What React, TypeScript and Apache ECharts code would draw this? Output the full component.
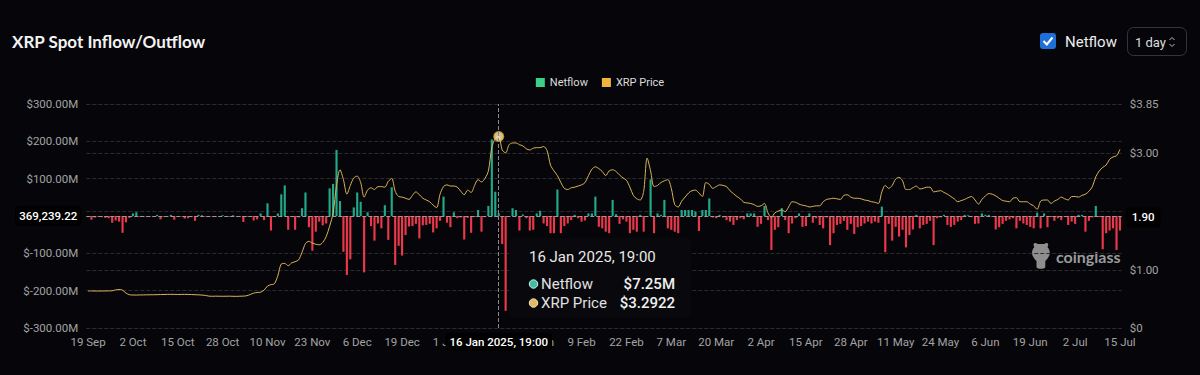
import React, { useEffect, useRef } from "react";
import * as echarts from "echarts";

const START_DATE = "2024-09-19";
const MONTHS = ["Jan", "Feb", "Mar", "Apr", "May", "Jun", "Jul", "Aug", "Sep", "Oct", "Nov", "Dec"];

// Daily netflow, millions of USD
const NETFLOW_M = [
  -3, -10, -4, -2, -3, -5, -6, -18, -12, -15,
  -45, -17, -5, 7, 10, -2, -1, -2, -1, -2,
  3, -9, -2, -1, 3, -10, -2, -1, -7, -6,
  -3, -13, 3, 2, -1, -2, -1, -2, -1, 2,
  -1, -2, 2, -1, -2, -16, -2, -1, -12, -9,
  7, -11, 34, -39, -3, 7, 58, 82, -37, -3,
  -37, -4, 21, 63, -30, -93, -42, -15, -25, -20,
  74, 86, 177, 40, -96, -158, -116, 23, 63, 38,
  -151, 10, -27, -66, -20, -33, 29, -64, 77, -131,
  -80, -106, -51, -28, -27, -21, -60, -25, -24, -21,
  -44, -33, -13, 52, -18, -30, 10, -6, -4, -63,
  -5, -45, -3, 16, -42, -3, 27, 205, 65, 7.25,
  -75, -254, -3, 21, 16, -39, 4, -6, -39, -37,
  7, 14, -20, -27, -46, -46, 71, -46, -27, -20,
  -11, 3, -6, -15, -12, 7, 7, 52, -29, -33,
  -42, -46, 43, 5, -21, -9, -15, -46, -37, -42,
  3, -42, -2, 98, -46, 7, 3, 43, -33, -37,
  -42, -46, 16, 16, 16, 16, 12, -40, 16, 16,
  47, -4, -6, 3, -4, -11, -15, -24, -11, -6,
  -9, 7, 7, 7, -29, -21, 27, -11, -91, -37,
  -30, 21, -11, -46, -20, -6, 7, -29, -27, 7,
  -18, -6, -24, -33, -4, -78, -46, -24, -21, -13,
  -37, -21, -48, -30, -27, -20, -15, -20, -15, -18,
  25, -97, -21, -66, -29, -55, -37, -84, -51, -36,
  3, -33, -24, -21, -13, -78, -6, -4, 3, -24,
  -29, -24, -15, -11, 3, 2, -3, -21, -20, 7,
  3, 3, -2, -36, -30, -21, -13, -9, -6, -33,
  -13, -20, -24, -29, -33, 9, -33, 7, -30, -3,
  -13, -6, -11, -3, -24, -15, -21, 3, 3, -42,
  -13, -4, 27, -3, -89, -46, -39, -33, -91, -39,
];

// Daily XRP price, USD
const XRP_PRICE = [
  0.636, 0.637, 0.636, 0.635, 0.636, 0.637, 0.638, 0.640, 0.655, 0.662,
  0.650, 0.600, 0.572, 0.567, 0.566, 0.568, 0.569, 0.570, 0.571, 0.572,
  0.573, 0.575, 0.576, 0.578, 0.579, 0.577, 0.576, 0.577, 0.578, 0.577,
  0.575, 0.572, 0.570, 0.566, 0.560, 0.548, 0.545, 0.547, 0.546, 0.545,
  0.546, 0.547, 0.545, 0.544, 0.546, 0.548, 0.555, 0.575, 0.600, 0.610,
  0.615, 0.650, 0.720, 0.745, 0.760, 0.900, 1.100, 1.110, 1.070, 1.120,
  1.140, 1.170, 1.300, 1.450, 1.490, 1.460, 1.440, 1.430, 1.470, 1.570,
  1.750, 1.970, 2.450, 2.720, 2.550, 2.300, 2.450, 2.580, 2.610, 2.500,
  2.250, 2.370, 2.410, 2.380, 2.430, 2.430, 2.420, 2.520, 2.570, 2.350,
  2.260, 2.250, 2.230, 2.210, 2.280, 2.340, 2.290, 2.230, 2.200, 2.170,
  2.110, 2.070, 2.300, 2.430, 2.460, 2.440, 2.440, 2.420, 2.350, 2.290,
  2.370, 2.330, 2.450, 2.550, 2.510, 2.570, 2.700, 3.100, 3.260, 3.2922,
  3.060, 3.010, 3.150, 3.180, 3.180, 3.150, 3.130, 3.080, 3.060, 3.090,
  3.100, 3.100, 3.120, 3.050, 2.800, 2.700, 2.620, 2.500, 2.400, 2.380,
  2.410, 2.420, 2.440, 2.460, 2.500, 2.620, 2.730, 2.770, 2.740, 2.690,
  2.620, 2.700, 2.720, 2.690, 2.630, 2.580, 2.540, 2.420, 2.280, 2.220,
  2.200, 2.350, 2.920, 2.700, 2.430, 2.450, 2.500, 2.530, 2.550, 2.400,
  2.120, 2.080, 2.180, 2.250, 2.320, 2.360, 2.370, 2.320, 2.260, 2.500,
  2.470, 2.400, 2.430, 2.460, 2.450, 2.430, 2.360, 2.310, 2.260, 2.220,
  2.160, 2.150, 2.140, 2.120, 2.090, 2.100, 2.140, 1.980, 1.900, 1.980,
  2.010, 2.030, 2.000, 2.080, 2.170, 2.160, 2.130, 2.110, 2.100, 2.080,
  2.090, 2.100, 2.100, 2.170, 2.210, 2.220, 2.230, 2.220, 2.210, 2.280,
  2.290, 2.250, 2.230, 2.230, 2.220, 2.200, 2.190, 2.170, 2.160, 2.140,
  2.340, 2.450, 2.400, 2.450, 2.560, 2.590, 2.530, 2.380, 2.380, 2.410,
  2.440, 2.390, 2.400, 2.420, 2.420, 2.340, 2.350, 2.360, 2.330, 2.300,
  2.260, 2.220, 2.170, 2.190, 2.210, 2.240, 2.260, 2.200, 2.130, 2.210,
  2.270, 2.310, 2.300, 2.270, 2.230, 2.190, 2.180, 2.170, 2.230, 2.240,
  2.170, 2.170, 2.170, 2.130, 2.100, 2.040, 2.180, 2.200, 2.200, 2.140,
  2.180, 2.210, 2.250, 2.220, 2.200, 2.260, 2.260, 2.250, 2.280, 2.300,
  2.350, 2.430, 2.600, 2.700, 2.760, 2.800, 2.900, 2.940, 2.960, 3.070,
];

const LEFT_AXIS = { min: -300, max: 300, interval: 100 };
const RIGHT_AXIS = { min: 0, max: 3.85, interval: 1 };
const LABEL_EVERY = 13;
// tick labels fully hidden behind the crosshair labels in the picture
const HIDDEN_X_LABELS = ["14 Jan"];
const HIDDEN_LEFT_TICK = 0;
const HIDDEN_RIGHT_TICK = 2;

const HOVER_INDEX = 119;
const HOVER_LABEL = "16 Jan 2025, 19:00";
const CROSS_NETFLOW_USD = 369239.22;
const CROSS_PRICE = 1.9;

const TITLE = "XRP Spot Inflow/Outflow";
const LEGEND_NAMES = ["Netflow", "XRP Price"];

const GREEN = "#22a98a";
const RED = "#ec3849";
const GOLD = "#d9b45a";
const BG = "#06060a";
const FONT = "Roboto, 'Noto Sans', sans-serif";
const AXIS_FONT = "Roboto, sans-serif";
const AXIS_SIZE = 11.5;

function buildCategories(n: number): string[] {
  const out: string[] = [];
  const start = new Date(START_DATE + "T00:00:00Z").getTime();
  for (let i = 0; i < n; i++) {
    const d = new Date(start + i * 86400000);
    out.push(d.getUTCDate() + " " + MONTHS[d.getUTCMonth()]);
  }
  return out;
}

export default function App() {
  const ref = useRef<HTMLDivElement>(null);

  useEffect(() => {
    document.body.style.margin = "0";
    document.body.style.background = BG;
    if (!ref.current) return;
    echarts.graphic.registerShape(
      "cgLogo",
      echarts.graphic.extendPath(
        "M3 5 C1 1 4 0 6 2 L12 2 C14 0 17 1 15 5 C17 7 18 11 16 14 C15 16 14 17 13 18 L13 24 C12 26 6 26 5 24 L5 18 C4 17 3 16 2 14 C0 11 1 7 3 5 Z",
        {}
      )
    );
    const chart = echarts.init(ref.current, null, { renderer: "svg" });
    const categories = buildCategories(NETFLOW_M.length);
    const hoverNetflow = NETFLOW_M[HOVER_INDEX];
    const hoverPrice = XRP_PRICE[HOVER_INDEX];

    const pointerLabel = {
      show: true,
      backgroundColor: "#000000",
      color: "#ffffff",
      fontWeight: 500,
      fontSize: AXIS_SIZE,
      fontFamily: AXIS_FONT,
    };

    const option: any = {
      animation: false,
      backgroundColor: BG,
      textStyle: { fontFamily: FONT },
      grid: { left: 86.3, right: 78.3, top: 104, bottom: 47, containLabel: false },
      legend: {
        top: 72,
        left: "center",
        itemWidth: 9,
        itemHeight: 9,
        itemGap: 14,
        icon: "rect",
        textStyle: { color: "#dcdcdc", fontSize: 11, fontFamily: FONT },
        data: [
          { name: LEGEND_NAMES[0], itemStyle: { color: "#3ccf86" } },
          { name: LEGEND_NAMES[1], itemStyle: { color: "#f0b43e" } },
        ],
      },
      xAxis: {
        type: "category",
        data: categories,
        boundaryGap: true,
        axisLine: { show: false },
        axisTick: { show: false },
        axisLabel: {
          interval: LABEL_EVERY - 1,
          color: "#a3a3a3",
          fontSize: AXIS_SIZE,
          fontFamily: AXIS_FONT,
          margin: 8,
          formatter: (v: string) => (HIDDEN_X_LABELS.indexOf(v) >= 0 ? "" : v),
        },
        splitLine: { show: false },
        axisPointer: {
          show: true,
          status: "show",
          value: HOVER_INDEX,
          type: "line",
          triggerTooltip: false,
          lineStyle: { color: "#8a8a8a", type: "dashed", width: 1 },
          label: { ...pointerLabel, formatter: () => HOVER_LABEL, padding: [3, 4], margin: 5 },
        },
      },
      yAxis: [
        {
          type: "value",
          min: LEFT_AXIS.min,
          max: LEFT_AXIS.max,
          interval: LEFT_AXIS.interval,
          axisLine: { show: false },
          axisTick: { show: false },
          axisLabel: {
            color: "#a3a3a3",
            fontSize: AXIS_SIZE,
            fontFamily: AXIS_FONT,
            margin: 8,
            formatter: (v: number) => (v === HIDDEN_LEFT_TICK ? "" : "$" + v.toFixed(2) + "M"),
          },
          splitLine: { show: true, lineStyle: { color: "#2a2a30", type: "dashed", width: 1 } },
          axisPointer: {
            show: true,
            status: "show",
            value: CROSS_NETFLOW_USD / 1e6,
            type: "line",
            triggerTooltip: false,
            lineStyle: { color: "#9a9a9a", type: "dashed", width: 1 },
            label: {
              ...pointerLabel,
              formatter: () =>
                CROSS_NETFLOW_USD.toLocaleString("en-US", { minimumFractionDigits: 2, maximumFractionDigits: 2 }),
              padding: [4, 4],
              margin: 5,
            },
          },
        },
        {
          type: "value",
          position: "right",
          min: RIGHT_AXIS.min,
          max: RIGHT_AXIS.max,
          interval: RIGHT_AXIS.interval,
          axisLine: { show: false },
          axisTick: { show: false },
          axisLabel: {
            color: "#a3a3a3",
            fontSize: AXIS_SIZE,
            fontFamily: AXIS_FONT,
            margin: 8,
            formatter: (v: number) => (v === HIDDEN_RIGHT_TICK ? "" : v === 0 ? "$0" : "$" + v.toFixed(2)),
          },
          splitLine: { show: true, lineStyle: { color: "#2a2a30", type: "dashed", width: 1 } },
          axisPointer: {
            show: true,
            status: "show",
            value: CROSS_PRICE,
            type: "line",
            triggerTooltip: false,
            lineStyle: { color: "#9a9a9a", type: "dashed", width: 1, opacity: 0 },
            label: { ...pointerLabel, formatter: () => CROSS_PRICE.toFixed(2), padding: [4, 6], margin: 4 },
          },
        },
      ],
      series: [
        {
          name: LEGEND_NAMES[0],
          type: "bar",
          yAxisIndex: 0,
          barWidth: "62%",
          itemStyle: { color: GREEN },
          data: NETFLOW_M.map((v) => ({ value: v, itemStyle: { color: v >= 0 ? GREEN : RED } })),
        },
        {
          name: LEGEND_NAMES[1],
          type: "line",
          yAxisIndex: 1,
          data: XRP_PRICE,
          showSymbol: false,
          smooth: 0.3,
          lineStyle: { color: GOLD, width: 1 },
          itemStyle: { color: GOLD },
          z: 3,
        },
        {
          name: "hover",
          type: "scatter",
          yAxisIndex: 1,
          data: [[HOVER_INDEX, hoverPrice]],
          symbolSize: 9,
          itemStyle: { color: "#fff2c6", borderColor: "#e7b445", borderWidth: 2 },
          z: 5,
        },
      ],
      graphic: [
        {
          type: "text",
          left: 12,
          top: 33,
          style: { text: TITLE, fill: "#f2f2f2", font: "bold 17px Lato, 'Open Sans', sans-serif" },
        },
        {
          type: "rect",
          shape: { x: 1040, y: 33, width: 16, height: 16, r: 3 },
          style: { fill: "#1f6fd8" },
        },
        {
          type: "polyline",
          shape: { points: [[1043.5, 41], [1046.8, 44.5], [1052.5, 37.5]] },
          style: { stroke: "#ffffff", lineWidth: 2, fill: null },
        },
        {
          type: "text",
          x: 1065,
          y: 42,
          style: { text: LEGEND_NAMES[0], fill: "#ececec", font: "15px " + FONT, verticalAlign: "middle" },
        },
        {
          type: "rect",
          shape: { x: 1127.5, y: 27.5, width: 59, height: 28, r: 6 },
          style: { fill: "none", stroke: "#34343a", lineWidth: 1 },
        },
        {
          type: "text",
          x: 1135,
          y: 42,
          style: { text: "1 day", fill: "#dedede", font: "13px " + FONT, verticalAlign: "middle" },
        },
        {
          type: "polyline",
          shape: { points: [[1169.5, 40], [1172, 37.5], [1174.5, 40]] },
          style: { stroke: "#bdbdbd", lineWidth: 1, fill: null },
        },
        {
          type: "polyline",
          shape: { points: [[1169.5, 44], [1172, 46.5], [1174.5, 44]] },
          style: { stroke: "#bdbdbd", lineWidth: 1, fill: null },
        },
        // watermark
        {
          type: "cgLogo",
          x: 1031,
          y: 242,
          scaleX: 1.1,
          scaleY: 1.05,
          style: { fill: "#8e8e8e" },
        },
        {
          type: "text",
          x: 1056,
          y: 256,
          style: { text: "coinglass", fill: "#9a9a9a", font: "bold 16px Lato, sans-serif", verticalAlign: "middle" },
        },
        // tooltip
        {
          type: "rect",
          shape: { x: 509, y: 238, width: 182, height: 80, r: 4 },
          style: { fill: "#09090d" },
          z: 50,
        },
        {
          type: "text",
          x: 529,
          y: 257,
          z: 51,
          style: { text: HOVER_LABEL, fill: "#e8e8e8", font: "15px " + FONT, verticalAlign: "middle" },
        },
        {
          type: "circle",
          shape: { cx: 533.5, cy: 284, r: 4.2 },
          z: 51,
          style: { fill: "#3fbf9f", stroke: "#d8f0ea", lineWidth: 1 },
        },
        {
          type: "text",
          x: 541,
          y: 284,
          z: 51,
          style: { text: LEGEND_NAMES[0], fill: "#e0e0e0", font: "15px " + FONT, verticalAlign: "middle" },
        },
        {
          type: "text",
          x: 675,
          y: 284,
          z: 51,
          style: {
            text: "$" + hoverNetflow.toFixed(2) + "M",
            fill: "#f0f0f0",
            font: "500 15px " + FONT,
            align: "right",
            verticalAlign: "middle",
          },
        },
        {
          type: "circle",
          shape: { cx: 533.5, cy: 303, r: 4.2 },
          z: 51,
          style: { fill: "#e2b860", stroke: "#f5e6c4", lineWidth: 1 },
        },
        {
          type: "text",
          x: 541,
          y: 303,
          z: 51,
          style: { text: LEGEND_NAMES[1], fill: "#e0e0e0", font: "15px " + FONT, verticalAlign: "middle" },
        },
        {
          type: "text",
          x: 675,
          y: 303,
          z: 51,
          style: {
            text: "$" + hoverPrice.toFixed(4),
            fill: "#f0f0f0",
            font: "500 15px " + FONT,
            align: "right",
            verticalAlign: "middle",
          },
        },
      ],
    };

    chart.setOption(option);
    return () => chart.dispose();
  }, []);

  return (
    <div
      ref={ref}
      style={{ position: "absolute", left: 0, top: 0, width: 1200, height: 375, background: BG }}
    />
  );
}
